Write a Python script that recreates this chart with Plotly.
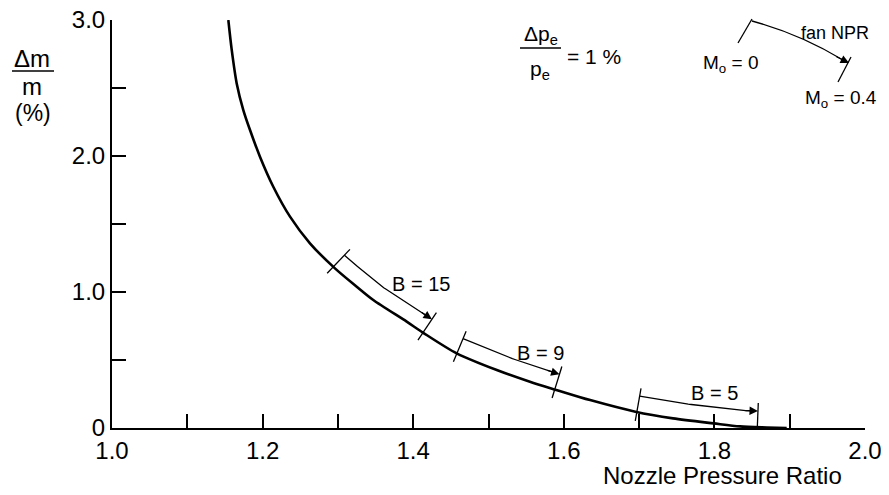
import numpy as np
import plotly.graph_objects as go

# ---------------- data ----------------
npr = [1.1545, 1.159, 1.1656, 1.1744, 1.1833, 1.1965, 1.2142, 1.2364, 1.2629,
       1.2961, 1.325, 1.347, 1.3914, 1.4134, 1.4578, 1.511, 1.555, 1.590,
       1.635, 1.695, 1.745, 1.799, 1.834, 1.870, 1.896]
dm_pct = [3.0, 2.78, 2.534, 2.338, 2.191, 1.995, 1.774, 1.554, 1.358,
          1.174, 1.039, 0.941, 0.782, 0.70, 0.549, 0.426, 0.34, 0.28,
          0.205, 0.12, 0.071, 0.034, 0.012, 0.004, 0.0]

b_labels = ["B = 15", "B = 9", "B = 5"]
b_start = [1.294, 1.458, 1.697]
b_end = [1.413, 1.588, 1.857]

x_tickvals = [1.0, 1.1, 1.2, 1.3, 1.4, 1.5, 1.6, 1.7, 1.8, 1.9, 2.0]
x_ticktext = ["1.0", "", "1.2", "", "1.4", "", "1.6", "", "1.8", "", "2.0"]
y_tickvals = [0, 0.5, 1.0, 1.5, 2.0, 2.5, 3.0]
y_ticktext = ["0", "", "1.0", "", "2.0", "", "3.0"]

# ---------------- layout geometry ----------------
# page body has an 8px margin, so the figure is offset by 8px in the window
OFF = 8
W, H = 881, 487
ML, MR, MT, MB = 104, 24, 12, 67
PW, PH = W - ML - MR, H - MT - MB
XR, YR = (1.0, 2.0), (0.0, 3.0)
sx = PW / (XR[1] - XR[0])
sy = PH / (YR[1] - YR[0])

FONT = "Liberation Sans, Arial, Helvetica, sans-serif"

def px2paper(px, py):
    return (px - OFF - ML) / PW, (H - MB - (py - OFF)) / PH

fig = go.Figure()
fig.add_trace(go.Scatter(x=npr, y=dm_pct, mode="lines",
                         line=dict(color="black", width=2.6, shape="spline", smoothing=0.8),
                         hoverinfo="skip", showlegend=False, cliponaxis=False))

annotations = []
cx = np.array(npr)
cy = np.array(dm_pct)

label_pos = [(1.411, 1.06), (1.569, 0.555), (1.800, 0.257)]

for lab, b0, b1, lp in zip(b_labels, b_start, b_end, label_pos):
    xs = np.linspace(b0, b1, 40)
    ys = np.interp(xs, cx, cy)
    X = xs * sx
    Y = -ys * sy
    tx = np.gradient(X)
    ty = np.gradient(Y)
    n = np.hypot(tx, ty)
    tx, ty = tx / n, ty / n
    nx, ny = ty, -tx  # upward normal in pixel space
    off = 16
    ax_ = xs + nx * off / sx
    ay_ = ys - ny * off / sy
    fig.add_trace(go.Scatter(x=ax_[:-1], y=ay_[:-1], mode="lines",
                             line=dict(color="black", width=1.3),
                             hoverinfo="skip", showlegend=False))
    annotations.append(dict(x=ax_[-1], y=ay_[-1], xref="x", yref="y",
                            ax=-tx[-1] * 14, ay=-ty[-1] * 14,
                            showarrow=True, arrowhead=2, arrowsize=1.3,
                            arrowwidth=1.3, arrowcolor="black", text=""))
    for i in (0, -1):
        lo, hi = -9, 24
        fig.add_trace(go.Scatter(
            x=[xs[i] + nx[i] * lo / sx, xs[i] + nx[i] * hi / sx],
            y=[ys[i] - ny[i] * lo / sy, ys[i] - ny[i] * hi / sy],
            mode="lines", line=dict(color="black", width=1.3),
            hoverinfo="skip", showlegend=False))
    annotations.append(dict(x=lp[0], y=lp[1], xref="x", yref="y", text=lab,
                            showarrow=False, font=dict(size=20, family=FONT, color="black")))

# ---------------- legend diagram (top right) ----------------
shapes = []
def seg(p0, p1, w=1.3):
    a = px2paper(*p0); b = px2paper(*p1)
    shapes.append(dict(type="line", xref="paper", yref="paper",
                       x0=a[0], y0=a[1], x1=b[0], y1=b[1],
                       line=dict(color="black", width=w)))

seg((738, 43), (752, 19))
seg((851, 57), (838, 82))
p0 = px2paper(752, 21); c = px2paper(800, 34); p1 = px2paper(843, 60)
shapes.append(dict(type="path", xref="paper", yref="paper",
                   path=f"M {p0[0]},{p0[1]} Q {c[0]},{c[1]} {p1[0]},{p1[1]}",
                   line=dict(color="black", width=1.3)))
tip = px2paper(849, 63)
annotations.append(dict(x=tip[0], y=tip[1], xref="paper", yref="paper",
                        ax=-14, ay=-7, showarrow=True, arrowhead=2, arrowsize=1.3,
                        arrowwidth=1.3, arrowcolor="black", text=""))

def txt(px, py, s, size, xanchor="center"):
    p = px2paper(px, py)
    annotations.append(dict(x=p[0], y=p[1], xref="paper", yref="paper", text=s,
                            showarrow=False, xanchor=xanchor, yanchor="middle",
                            font=dict(size=size, family=FONT, color="black")))

txt(835, 33, "fan NPR", 18)
txt(730, 64, "M<sub>o</sub> = 0", 19)
txt(841, 99, "M<sub>o</sub> = 0.4", 19)

# Δp_e / p_e = 1 %
txt(541, 35, "Δp<sub>e</sub>", 21)
seg((520, 48), (561, 48), 1.3)
txt(540, 70, "p<sub>e</sub>", 21)
txt(594, 56, "= 1 %", 21)

# y axis title
txt(32, 58, "Δm", 24)
seg((12, 71), (54, 71), 1.3)
txt(32, 87, "m", 24)
txt(33, 113, "(%)", 23)

# x axis title
txt(722, 475, "Nozzle Pressure Ratio", 24)

axis_common = dict(ticks="inside", ticklen=14, tickwidth=1.5, tickcolor="black",
                   showline=True, linecolor="black", linewidth=2,
                   showgrid=False, zeroline=False, fixedrange=True, automargin=False,
                   ticklabeloverflow="allow", tickfont=dict(size=24, family=FONT))

fig.update_layout(
    width=W, height=H,
    margin=dict(l=ML, r=MR, t=MT, b=MB, autoexpand=False),
    paper_bgcolor="white", plot_bgcolor="white",
    font=dict(family=FONT, size=24, color="black"),
    shapes=shapes, annotations=annotations,
    xaxis=dict(range=list(XR), tickvals=x_tickvals, ticktext=x_ticktext, **axis_common),
    yaxis=dict(range=list(YR), tickvals=y_tickvals, ticktext=y_ticktext, **axis_common),
)

fig.write_html("out.html")
